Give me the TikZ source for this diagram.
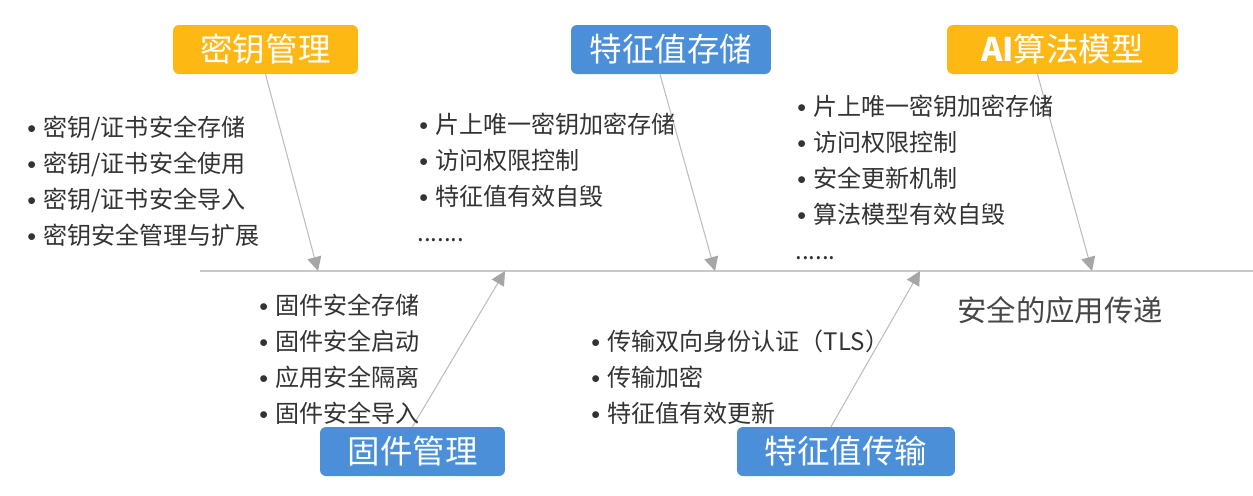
\documentclass[tikz,border=0pt]{standalone}
\usepackage{fontspec}
\newfontfamily\cjk{Noto Sans CJK SC}
\usepackage{xcolor}
\usetikzlibrary{arrows.meta}
\usetikzlibrary{positioning}

\definecolor{keyorange}{HTML}{FDB813}
\definecolor{keyblue}{HTML}{4A8FD8}
\definecolor{spinegray}{HTML}{C8C8C8}
\definecolor{ribgray}{HTML}{BDBDBD}
\definecolor{tipgray}{HTML}{A6A6A6}
\definecolor{itemgray}{HTML}{333333}

\newcommand{\itm}{\makebox[0.36cm][l]{\hspace{1.2pt}\raisebox{1.6pt}{\fontsize{10}{10}\selectfont$\bullet$}}}

\tikzset{
	itemlist/.style = {anchor=west, align=left, inner sep=0pt, text=itemgray,
		font=\cjk\fontsize{13.7}{20.5}\selectfont},
}

\begin{document}
\begin{tikzpicture}[x=0.02cm, y=-0.02cm]
		\useasboundingbox (0,0) rectangle (1253,495);
		\fill[white] (0,0) rectangle (1253,495);

		\begin{scope}[every node/.style = {rounded corners=1.2mm, text=white, minimum height=0.98cm,
				inner sep=0pt, font=\cjk\fontsize{18.5}{22}\selectfont}]
			\node[fill=keyorange, minimum width=3.7cm] (K) at (265.5,49.5) {密钥管理};
			\node[fill=keyblue, minimum width=4cm] (S) at (671,49.5) {特征值存储};
			\node[fill=keyorange, minimum width=4.62cm] (M) at (1062.5,49.5) {\textbf{AI}算法模型};
			\node[fill=keyblue, minimum width=3.7cm] (F) at (412.5,451.5) {固件管理};
			\node[fill=keyblue, minimum width=4.36cm] (T) at (846,451.5) {特征值传输};
		\end{scope}

		% spine
		\coordinate (L) at (200,271);
		\coordinate (R) at (1253,271);
		\draw[spinegray, line width=0.8pt] (L) -- (R);

		\coordinate (K0) at (318,271);
		\coordinate (S0) at (715,271);
		\coordinate (M0) at (1092,271);
		\coordinate (F0) at (505,271);
		\coordinate (T0) at (920,271);

		\begin{scope}[>={Triangle[length=2.8mm, width=2.8mm, fill=tipgray, color=tipgray]}, ribgray, line width=0.6pt]
			\path[->] (K.south) edge (K0);
			\path[->] ([xshift=-2.2mm]S.south) edge (S0);
			\path[->] ([xshift=-5mm]M.south) edge (M0);
			\path[->] (F.north) edge (F0);
			\path[->] ([xshift=-3mm]T.north) edge (T0);
		\end{scope}

		\node[itemlist] (Klist) at (25,181) {\itm 密钥/证书安全存储\\ \itm 密钥/证书安全使用\\
			\itm 密钥/证书安全导入\\ \itm 密钥安全管理与扩展};
		\node[itemlist] (Slist) at (417,177) {\itm 片上唯一密钥加密存储\\ \itm 访问权限控制\\
			\itm 特征值有效自毁\\ .......};
		\node[itemlist] (Mlist) at (795,177) {\itm 片上唯一密钥加密存储\\ \itm 访问权限控制\\
			\itm 安全更新机制\\ \itm 算法模型有效自毁\\ ......};
		\node[itemlist] (Flist) at (257,359) {\itm 固件安全存储\\ \itm 固件安全启动\\
			\itm 应用安全隔离\\ \itm 固件安全导入};
		\node[itemlist] (Tlist) at (589,377) {\itm 传输双向身份认证（TLS）\\ \itm 传输加密\\
			\itm 特征值有效更新};

		\node[anchor=west, inner sep=0pt, text=itemgray!90, font=\cjk\fontsize{16.7}{20}\selectfont] (goal) at (957,310) {安全的应用传递};
	\end{tikzpicture}
\end{document}
